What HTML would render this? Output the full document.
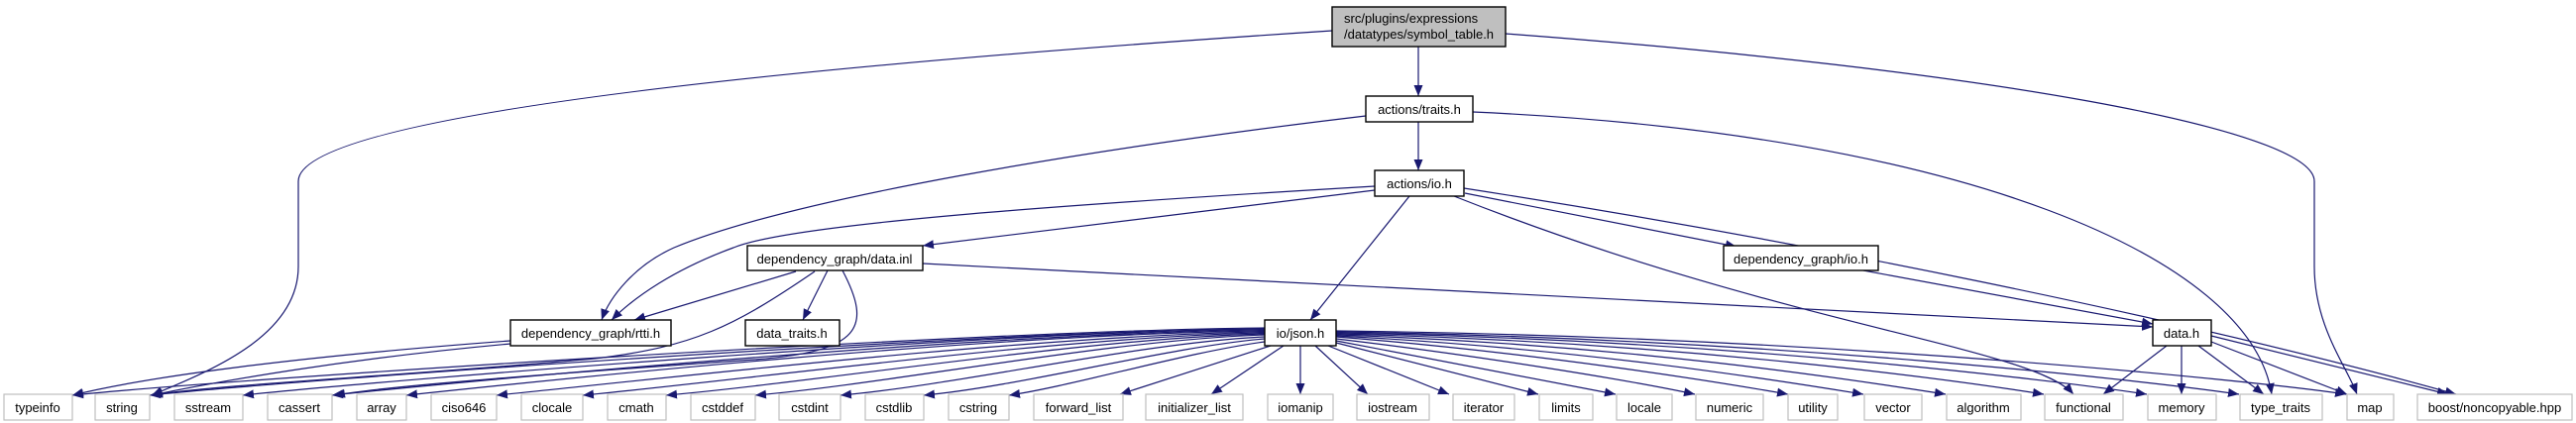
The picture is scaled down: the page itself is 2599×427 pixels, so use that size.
<!DOCTYPE html>
<html><head><meta charset="utf-8"><style>
html,body{margin:0;padding:0;background:#fff;}
svg{display:block;}
text{font-family:"Liberation Sans",sans-serif;font-size:13px;fill:#000;}
.e{fill:none;stroke:#191970;stroke-width:1.2;}
.b{fill:#fff;stroke:#000;stroke-width:1.4;}
.g{fill:#fff;stroke:#bfbfbf;stroke-width:1.2;}
</style></head><body>
<svg width="2599" height="427" viewBox="0 0 2599 427" xmlns="http://www.w3.org/2000/svg">
<defs><marker id="a" markerUnits="userSpaceOnUse" markerWidth="12" markerHeight="10" refX="11" refY="4.5" orient="auto"><path d="M0,0 L11,4.5 L0,9 z" fill="#191970"/></marker></defs>
<g class="e" marker-end="url(#a)">
<path d="M1431,47 L1431,97"/>
<path d="M1344,31 C900,60 301,110 301,183 L301,269 C301,340 210,375 153,399"/>
<path d="M1519,34 C2000,70 2335,130 2335,183 L2335,269 C2335,330 2368,370 2378,398"/>
<path d="M1431,123 L1431,172"/>
<path d="M1378,117 C1100,150 800,200 680,250 C640,268 615,300 607,323"/>
<path d="M1486,113 C1980,135 2270,260 2292,398"/>
<path d="M1387,188 C1100,205 800,225 740,250 C680,272 640,300 617,323"/>
<path d="M1387,192 L931,248"/>
<path d="M1478,195 L1752,249"/>
<path d="M1422,198 L1322,323"/>
<path d="M1467,198 C1800,330 2050,350 2092,398"/>
<path d="M1477,190 C1800,240 2200,320 2478,398"/>
<path d="M803,274 L640,323"/>
<path d="M835,273 L810,323"/>
<path d="M931,266 L2172,330"/>
<path d="M822,274 C740,330 700,350 600,362 C400,380 220,388 153,399"/>
<path d="M850,273 C880,330 870,355 760,363 C520,380 390,390 337,399"/>
<path d="M1880,273 L2172,327"/>
<path d="M515,344 C300,360 150,380 73,399"/>
<path d="M515,347 C350,362 220,385 153,399"/>
<path d="M2186,349 L2122,398"/>
<path d="M2201,349 L2201,398"/>
<path d="M2218,349 L2284,398"/>
<path d="M2231,345 L2368,398"/>
<path d="M2231,339 L2470,398"/>
<path d="M1276,331 C1000,333 223,383 73,399"/>
<path d="M1276,332 C1000,334 301,383 151,399"/>
<path d="M1276,332 C1000,335 395,383 245,399"/>
<path d="M1276,333 C1000,336 485,383 335,399"/>
<path d="M1276,334 C1000,337 560,383 410,399"/>
<path d="M1276,335 C1050,338 651,384 501,399"/>
<path d="M1276,336 C1080,339 738,385 588,399"/>
<path d="M1276,337 C1100,341 822,386 672,399"/>
<path d="M1276,338 C1120,343 900,387 762,399"/>
<path d="M1276,340 C1150,346 970,388 848,399"/>
<path d="M1276,342 C1180,350 1030,390 932,399"/>
<path d="M1276,345 C1200,355 1080,390 1018,399"/>
<path d="M1282,349 L1130,398"/>
<path d="M1295,349 L1222,398"/>
<path d="M1312,349 L1312,398"/>
<path d="M1327,349 L1380,398"/>
<path d="M1340,349 L1462,398"/>
<path d="M1348,346 L1552,398"/>
<path d="M1348,344 L1630,398"/>
<path d="M1348,342 C1500,360 1650,385 1710,398"/>
<path d="M1348,340 C1550,356 1730,385 1804,398"/>
<path d="M1348,339 C1600,352 1800,385 1880,398"/>
<path d="M1348,338 C1650,348 1880,385 1963,398"/>
<path d="M1348,337 C1700,345 1980,385 2062,398"/>
<path d="M1348,336 C1750,343 2080,385 2166,398"/>
<path d="M1348,335 C1800,342 2170,385 2259,398"/>
<path d="M1348,334 C1850,340 2280,385 2367,398"/>
</g>
<rect x="1344" y="7" width="175" height="40" fill="#bfbfbf" stroke="#000" stroke-width="1.4"/>
<text x="1356" y="23">src/plugins/expressions</text>
<text x="1356" y="39">/datatypes/symbol_table.h</text>
<rect class="b" x="1378" y="97" width="108" height="26"/><text x="1432" y="115" text-anchor="middle">actions/traits.h</text>
<rect class="b" x="1387" y="172" width="90" height="26"/><text x="1432" y="190" text-anchor="middle">actions/io.h</text>
<rect class="b" x="754" y="248" width="177" height="25"/><text x="842" y="266" text-anchor="middle">dependency_graph/data.inl</text>
<rect class="b" x="1739" y="248" width="156" height="25"/><text x="1817" y="266" text-anchor="middle">dependency_graph/io.h</text>
<rect class="b" x="515" y="323" width="162" height="26"/><text x="596" y="341" text-anchor="middle">dependency_graph/rtti.h</text>
<rect class="b" x="752" y="323" width="95" height="26"/><text x="799" y="341" text-anchor="middle">data_traits.h</text>
<rect class="b" x="1276" y="323" width="72" height="26"/><text x="1312" y="341" text-anchor="middle">io/json.h</text>
<rect class="b" x="2172" y="323" width="59" height="26"/><text x="2201" y="341" text-anchor="middle">data.h</text>
<g text-anchor="middle">
<rect class="g" x="4" y="398" width="69" height="26"/><text x="38" y="416">typeinfo</text>
<rect class="g" x="96" y="398" width="55" height="26"/><text x="123" y="416">string</text>
<rect class="g" x="176" y="398" width="69" height="26"/><text x="210" y="416">sstream</text>
<rect class="g" x="270" y="398" width="65" height="26"/><text x="302" y="416">cassert</text>
<rect class="g" x="360" y="398" width="50" height="26"/><text x="385" y="416">array</text>
<rect class="g" x="435" y="398" width="66" height="26"/><text x="468" y="416">ciso646</text>
<rect class="g" x="526" y="398" width="62" height="26"/><text x="557" y="416">clocale</text>
<rect class="g" x="613" y="398" width="59" height="26"/><text x="642" y="416">cmath</text>
<rect class="g" x="697" y="398" width="65" height="26"/><text x="729" y="416">cstddef</text>
<rect class="g" x="786" y="398" width="62" height="26"/><text x="817" y="416">cstdint</text>
<rect class="g" x="873" y="398" width="59" height="26"/><text x="902" y="416">cstdlib</text>
<rect class="g" x="957" y="398" width="61" height="26"/><text x="987" y="416">cstring</text>
<rect class="g" x="1043" y="398" width="90" height="26"/><text x="1088" y="416">forward_list</text>
<rect class="g" x="1156" y="398" width="98" height="26"/><text x="1205" y="416">initializer_list</text>
<rect class="g" x="1279" y="398" width="66" height="26"/><text x="1312" y="416">iomanip</text>
<rect class="g" x="1369" y="398" width="73" height="26"/><text x="1405" y="416">iostream</text>
<rect class="g" x="1466" y="398" width="62" height="26"/><text x="1497" y="416">iterator</text>
<rect class="g" x="1553" y="398" width="54" height="26"/><text x="1580" y="416">limits</text>
<rect class="g" x="1631" y="398" width="56" height="26"/><text x="1659" y="416">locale</text>
<rect class="g" x="1711" y="398" width="68" height="26"/><text x="1745" y="416">numeric</text>
<rect class="g" x="1804" y="398" width="50" height="26"/><text x="1829" y="416">utility</text>
<rect class="g" x="1881" y="398" width="58" height="26"/><text x="1910" y="416">vector</text>
<rect class="g" x="1964" y="398" width="75" height="26"/><text x="2001" y="416">algorithm</text>
<rect class="g" x="2063" y="398" width="79" height="26"/><text x="2102" y="416">functional</text>
<rect class="g" x="2167" y="398" width="69" height="26"/><text x="2201" y="416">memory</text>
<rect class="g" x="2260" y="398" width="83" height="26"/><text x="2301" y="416">type_traits</text>
<rect class="g" x="2368" y="398" width="47" height="26"/><text x="2391" y="416">map</text>
<rect class="g" x="2439" y="398" width="156" height="26"/><text x="2517" y="416">boost/noncopyable.hpp</text>
</g>
</svg>
</body></html>
